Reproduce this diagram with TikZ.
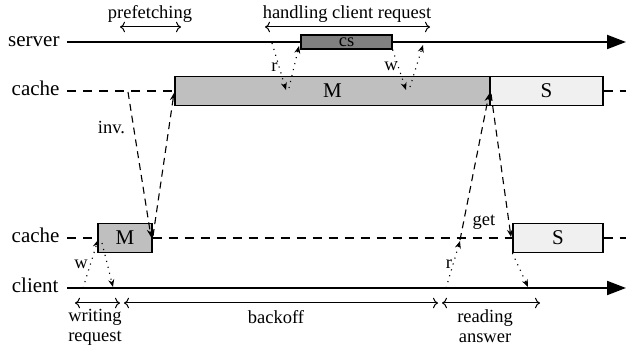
\documentclass[tikz,border=0pt]{standalone}
\usepackage{fontspec}
\setmainfont{Liberation Serif}
\usetikzlibrary{arrows.meta}
\begin{document}
\begin{tikzpicture}[x=0.4pt, y=-0.4pt,
	main style/.style={font=\fontsize{8.4}{10}\selectfont},
	small style/.style={font=\fontsize{7.4}{8}\selectfont, align=center},
	line label/.style={main style, anchor=base east, inner sep=0pt},
	box style/.style={draw, line width=0.5pt, inner sep=0pt, minimum height=11.6pt, main style},
	time style/.style={line width=0.8pt, -{Triangle[length=7.6pt, width=5.6pt]}},
	cache style/.style={line width=0.6pt, dash pattern=on 3.6pt off 2.8pt},
	msg style/.style={line width=0.45pt, dotted, -{Stealth[length=3pt, width=2.4pt]}},
	inv style/.style={line width=0.45pt, dash pattern=on 2.8pt off 2pt, -{Stealth[length=3pt, width=2.4pt]}},
	range style/.style={line width=0.4pt, {To[length=2pt]}-{To[length=2pt]}}]
	\useasboundingbox (0,0) rectangle (626,351);
	% ends of the time lines
	\foreach \n/\x/\y in {sA/67/42, sB/626/42, cA/67/91, cB/626/91, dA/67/238, dB/626/238, kA/67/288, kB/626/288}
	\coordinate (\n) at (\x,\y);
	% ends of the messages
	\foreach \n/\x/\y in {r1/272/43, r2/286/90, r3/289/88, r4/299/46, w2/406/90, w3/410/87, w4/423/45,
		i1/128/92, i2/151/237, i3/153/236, i4/174/93, g1/460/240, g2/489/94, g3/491/94, g4/511/237,
		b1/446/288, b2/460/241, a2/528/287, v1/83/288, v2/98/240, v3/102/243, v4/113/287}
	\coordinate (\n) at (\x,\y);
	% ends of the ranges
	\foreach \n/\x/\y in {p1/120/27, p2/181/27, h1/265/27, h2/430/27, q1/75/303, q2/120/303,
		o1/124/303, o2/438/303, e1/442/303, e2/540/303}
	\coordinate (\n) at (\x,\y);
	\node[line label] (N1) at (60,47) {server};
	\node[line label] (N2) at (60,96) {cache};
	\node[line label] (N3) at (60,243) {cache};
	\node[line label] (N4) at (59,293) {client};
	\draw[time style] (sA) -- (sB);
	\draw[time style] (kA) -- (kB);
	\node[box style, fill=black!50, minimum width=36.4pt, minimum height=5.6pt, font=\fontsize{7.4}{8}\selectfont] (CS) at (346.5,42) {cs};
	\node[box style, fill=black!25, minimum width=126pt] (M1) at (332.5,91) {M};
	\node[box style, fill=black!6, minimum width=45.2pt] (S1) at (546.5,91) {S};
	\node[box style, fill=black!25, minimum width=21.6pt] (M2) at (125,238) {M};
	\node[box style, fill=black!6, minimum width=36pt] (S2) at (558,238) {S};
	\draw[cache style] (cA) -- (M1.west);
	\draw[cache style] (S1.east) -- (cB);
	\draw[cache style] (dA) -- (M2.west);
	\draw[cache style] (M2.east) -- (S2.west);
	\draw[cache style] (S2.east) -- (dB);
	\draw[msg style] (r1) -- (r2);
	\draw[msg style] (r3) -- (r4);
	\draw[msg style] (CS.south east) -- (w2);
	\draw[msg style] (w3) -- (w4);
	\draw[inv style] (i1) -- (i2);
	\draw[inv style] (i3) -- (i4);
	\draw[inv style] (g1) -- (g2);
	\draw[inv style] (g3) -- (g4);
	\draw[msg style] (b1) -- (b2);
	\draw[msg style] (S2.south west) -- (a2);
	\draw[msg style] (v1) -- (v2);
	\draw[msg style] (v3) -- (v4);
	\node[small style] (T1) at (274.5,67) {r};
	\node[small style] (T2) at (391,66) {w};
	\node[small style] (T3) at (111.5,128) {inv.};
	\node[small style] (T4) at (484,222) {get};
	\node[small style] (T5) at (449,264) {r};
	\node[small style] (T6) at (81,264) {w};
	\draw[range style] (p1) -- (p2);
	\draw[range style] (h1) -- (h2);
	\draw[range style] (q1) -- (q2);
	\draw[range style] (o1) -- (o2);
	\draw[range style] (e1) -- (e2);
	\node[small style] (U1) at (150,14) {prefetching};
	\node[small style] (U2) at (347,14) {handling client request};
	\node[small style] (U3) at (95,327) {writing\\request};
	\node[small style] (U4) at (276,317) {backoff};
	\node[small style] (U5) at (485,326.5) {reading\\answer};
\end{tikzpicture}
\end{document}
